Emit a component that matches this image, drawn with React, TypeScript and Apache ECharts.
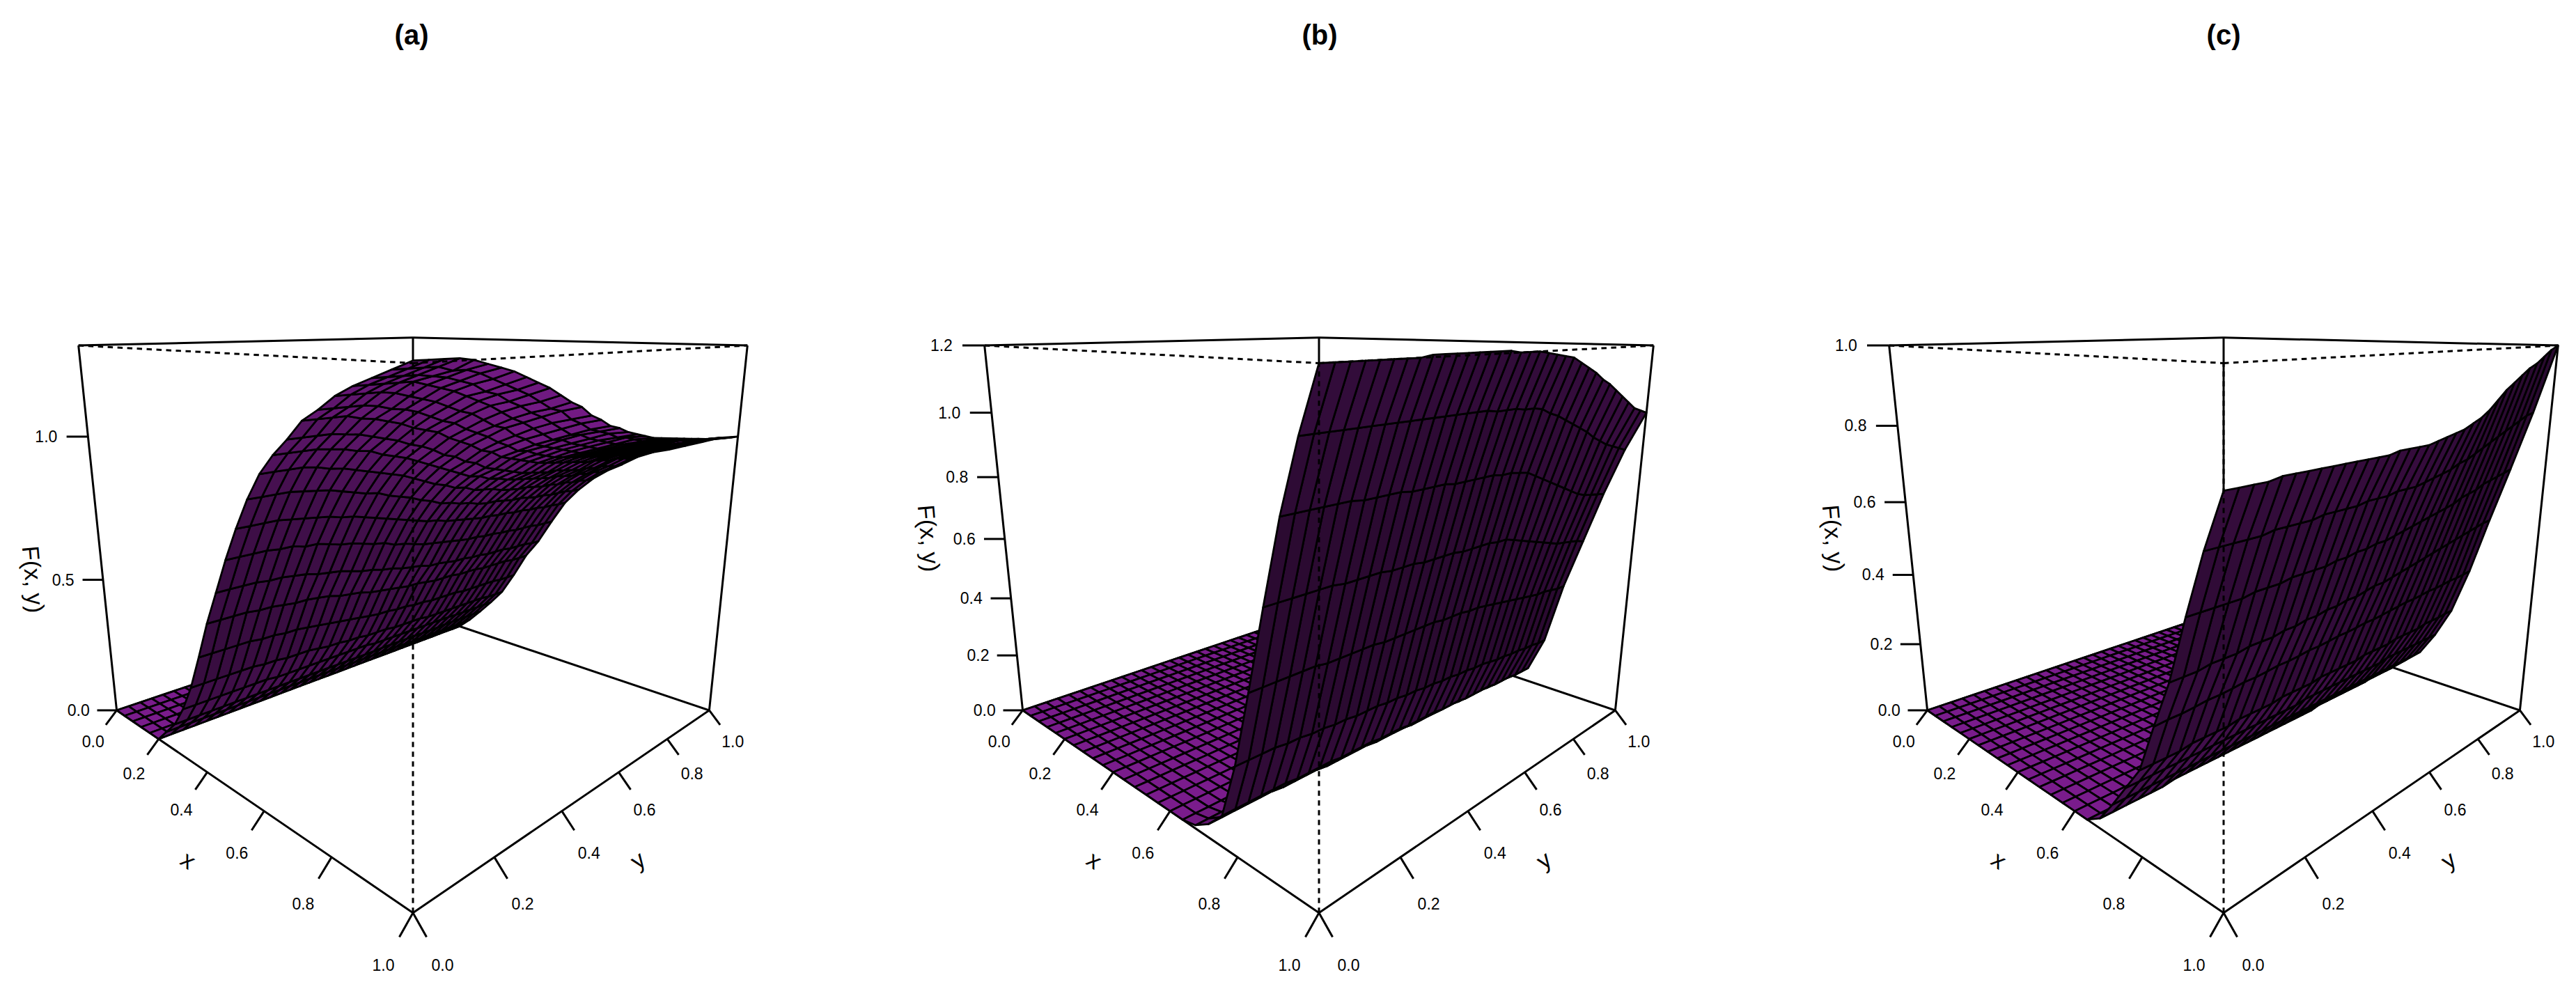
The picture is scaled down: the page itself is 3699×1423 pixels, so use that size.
import React, { useEffect, useRef } from "react";
import * as echarts from "echarts";

// ---- Data -----------------------------------------------------------------
const panelTitles = ["(a)", "(b)", "(c)"];
const zAxisMax = [1.295, 1.2, 1.0];
const xGridStep = 0.04;
const gridColumns = 34;
const gridRows = 26;
const xTickValues = [0, 0.2, 0.4, 0.6, 0.8, 1];
const xTickLabels = ["0.0", "0.2", "0.4", "0.6", "0.8", "1.0"];
const yTickValues = [0, 0.2, 0.4, 0.6, 0.8, 1];
const yTickLabels = ["0.0", "0.2", "0.4", "0.6", "0.8", "1.0"];
const zTickValuesA = [0, 0.5, 1];
const zTickLabelsA = ["0.0", "0.5", "1.0"];
const zTickValuesB = [0, 0.2, 0.4, 0.6, 0.8, 1, 1.2];
const zTickLabelsB = ["0.0", "0.2", "0.4", "0.6", "0.8", "1.0", "1.2"];
const zTickValuesC = [0, 0.2, 0.4, 0.6, 0.8, 1];
const zTickLabelsC = ["0.0", "0.2", "0.4", "0.6", "0.8", "1.0"];

// Rows below these indices lie flat on the floor (F = 0).
const flatRowsA = 6;
const flatRowsB = 17;
const flatRowsC = 17;

// F(x, y) rows, x = 0.24 ... 1.00 in steps of 0.04, y left to right.
const surfaceA = [
  [.05,.05,.05,.05,.05,.05,.05,.05,.05,.05,.05,.05,.05,.05,.05,.05,.05,.05,.05,.05,.05,.05,.05,.05,.048,.048,.048,.048,.048,.048,.048,.048,.048,.048],
  [.10,.10,.10,.10,.10,.10,.10,.10,.10,.10,.10,.10,.10,.10,.10,.10,.10,.10,.10,.10,.102,.102,.102,.102,.102,.102,.102,.102,.104,.104,.104,.104,.104,.104],
  [.175,.175,.175,.175,.175,.175,.175,.175,.17,.17,.17,.17,.17,.17,.17,.17,.17,.17,.165,.165,.165,.165,.165,.165,.165,.165,.165,.165,.163,.163,.163,.163,.163,.163],
  [.27,.27,.27,.27,.27,.27,.265,.265,.26,.26,.26,.255,.25,.25,.245,.245,.24,.24,.24,.235,.235,.235,.235,.23,.23,.23,.23,.23,.23,.23,.23,.226,.226,.226],
  [.39,.39,.39,.39,.39,.385,.385,.38,.38,.375,.37,.365,.36,.355,.35,.345,.34,.34,.335,.335,.33,.33,.325,.325,.325,.325,.32,.32,.32,.32,.32,.316,.316,.316],
  [.515,.515,.515,.515,.51,.51,.505,.50,.50,.495,.49,.48,.475,.47,.46,.455,.45,.445,.44,.44,.435,.43,.43,.43,.425,.425,.425,.42,.42,.42,.42,.415,.415,.415],
  [.625,.625,.625,.625,.62,.62,.615,.61,.60,.595,.59,.58,.57,.565,.555,.55,.54,.535,.53,.52,.52,.515,.51,.51,.505,.505,.50,.50,.50,.495,.495,.495,.49,.49],
  [.735,.735,.735,.735,.73,.73,.72,.72,.71,.70,.695,.685,.675,.67,.655,.65,.64,.63,.625,.62,.615,.61,.605,.605,.60,.60,.595,.595,.59,.59,.59,.585,.585,.584],
  [.835,.835,.835,.835,.83,.825,.82,.815,.805,.80,.79,.78,.77,.76,.75,.74,.73,.725,.715,.71,.705,.70,.695,.695,.69,.69,.685,.685,.68,.68,.675,.675,.672,.672],
  [.925,.925,.925,.925,.92,.915,.91,.90,.89,.88,.875,.86,.85,.84,.825,.815,.80,.795,.785,.78,.77,.765,.765,.76,.755,.755,.75,.745,.745,.74,.74,.74,.735,.734],
  [1.00,1.00,1.00,1.00,.995,.985,.98,.97,.96,.95,.94,.93,.915,.90,.885,.875,.86,.855,.84,.835,.83,.82,.815,.81,.81,.805,.80,.80,.795,.795,.79,.79,.785,.785],
  [1.055,1.055,1.055,1.055,1.05,1.045,1.035,1.03,1.015,1.005,.995,.98,.965,.95,.935,.92,.905,.90,.885,.88,.87,.865,.86,.855,.85,.845,.845,.84,.835,.835,.83,.83,.825,.824],
  [1.10,1.10,1.10,1.10,1.095,1.09,1.08,1.07,1.06,1.045,1.035,1.02,1.00,.99,.97,.96,.94,.93,.92,.91,.90,.895,.89,.885,.885,.88,.875,.87,.87,.865,.865,.86,.855,.855],
  [1.15,1.15,1.15,1.15,1.14,1.135,1.125,1.115,1.10,1.09,1.08,1.06,1.045,1.03,1.01,1.00,.98,.97,.96,.95,.94,.935,.93,.925,.92,.915,.91,.91,.905,.90,.90,.895,.89,.89],
  [1.18,1.18,1.18,1.18,1.175,1.165,1.16,1.15,1.135,1.12,1.11,1.09,1.075,1.06,1.04,1.025,1.005,1.00,.985,.975,.965,.96,.955,.95,.945,.94,.935,.93,.93,.925,.92,.92,.915,.914],
  [1.215,1.215,1.215,1.215,1.21,1.20,1.19,1.18,1.165,1.15,1.14,1.12,1.10,1.09,1.065,1.05,1.03,1.02,1.01,1.00,.99,.98,.975,.97,.965,.96,.955,.95,.945,.945,.94,.94,.935,.93],
  [1.24,1.24,1.24,1.24,1.24,1.23,1.22,1.21,1.195,1.18,1.165,1.145,1.125,1.11,1.09,1.07,1.05,1.045,1.03,1.02,1.01,1.00,.995,.99,.985,.98,.975,.97,.965,.96,.96,.955,.955,.95],
  [1.26,1.26,1.26,1.26,1.255,1.25,1.24,1.23,1.21,1.20,1.18,1.165,1.145,1.13,1.11,1.09,1.07,1.065,1.05,1.04,1.03,1.02,1.015,1.01,1.005,1.00,.995,.99,.985,.98,.98,.975,.975,.97],
  [1.28,1.28,1.28,1.28,1.27,1.27,1.26,1.245,1.23,1.215,1.20,1.18,1.16,1.15,1.125,1.11,1.09,1.08,1.07,1.055,1.05,1.04,1.03,1.025,1.02,1.015,1.01,1.01,1.00,1.00,.995,.995,.99,.99],
  [1.30,1.30,1.30,1.30,1.295,1.285,1.275,1.265,1.25,1.235,1.22,1.20,1.18,1.165,1.14,1.125,1.105,1.095,1.08,1.07,1.06,1.05,1.045,1.04,1.035,1.03,1.025,1.02,1.015,1.012,1.01,1.005,1.002,1.0],
];

// x = 0.68 ... 1.00
const surfaceB = [
  [.01,.01,.01,.01,.01,.01,.01,.01,.01,.01,.01,.01,.005,.005,.005,.005,.005,.005,.005,.005,.005,.005,.005,.005,0,0,0,0,0,0,0,0,0,0],
  [.04,.04,.04,.04,.04,.04,.035,.035,.035,.035,.03,.03,.03,.03,.03,.025,.025,.025,.025,.02,.02,.02,.02,.02,.02,.015,.015,.015,.015,.01,.01,.01,.01,.01],
  [.09,.09,.09,.09,.09,.09,.085,.085,.085,.085,.08,.08,.08,.08,.075,.075,.075,.07,.07,.07,.07,.065,.065,.065,.06,.06,.06,.06,.055,.055,.055,.05,.05,.05],
  [.25,.25,.25,.25,.245,.245,.24,.24,.235,.235,.23,.23,.23,.225,.225,.22,.22,.215,.215,.21,.21,.205,.205,.20,.20,.195,.19,.19,.185,.185,.18,.18,.175,.175],
  [.46,.46,.46,.46,.46,.46,.455,.455,.455,.455,.455,.45,.45,.45,.45,.45,.45,.445,.445,.445,.44,.44,.435,.43,.425,.42,.415,.41,.405,.40,.40,.395,.39,.39],
  [.68,.68,.68,.68,.68,.68,.675,.675,.675,.675,.67,.67,.67,.665,.665,.665,.665,.66,.66,.66,.66,.655,.655,.645,.635,.625,.615,.605,.595,.585,.58,.575,.57,.56],
  [.89,.89,.89,.89,.89,.89,.885,.885,.885,.885,.88,.88,.88,.88,.875,.875,.875,.875,.875,.87,.87,.865,.86,.845,.83,.815,.80,.785,.77,.755,.745,.74,.735,.73],
  [1.06,1.06,1.06,1.06,1.06,1.06,1.06,1.06,1.06,1.06,1.06,1.06,1.06,1.06,1.06,1.06,1.055,1.055,1.055,1.05,1.05,1.045,1.03,1.02,1.005,.99,.975,.96,.94,.925,.91,.90,.89,.88],
  [1.20,1.20,1.20,1.20,1.20,1.20,1.20,1.20,1.205,1.205,1.205,1.205,1.205,1.205,1.205,1.205,1.20,1.20,1.20,1.195,1.19,1.185,1.18,1.165,1.15,1.135,1.115,1.10,1.08,1.06,1.04,1.02,1.01,1.00],
];

// x = 0.68 ... 1.00
const surfaceC = [
  [.025,.025,.025,.025,.025,.025,.03,.03,.03,.03,.03,.03,.03,.03,.03,.03,.03,.03,.03,.03,.03,.035,.035,.035,.035,.035,.035,.035,.04,.04,.04,.04,.04,.04],
  [.08,.08,.08,.08,.08,.08,.08,.08,.08,.08,.08,.08,.08,.08,.08,.08,.08,.08,.08,.08,.08,.08,.08,.08,.08,.08,.08,.08,.08,.08,.08,.08,.08,.08],
  [.14,.14,.14,.14,.14,.14,.14,.14,.14,.14,.14,.14,.14,.14,.14,.14,.145,.145,.145,.145,.145,.145,.145,.145,.145,.145,.15,.15,.15,.15,.15,.15,.15,.15],
  [.20,.20,.20,.20,.205,.205,.205,.205,.21,.21,.21,.21,.215,.215,.215,.215,.22,.22,.22,.22,.22,.225,.225,.225,.225,.23,.23,.23,.23,.235,.235,.235,.238,.238],
  [.313,.315,.315,.317,.32,.32,.322,.325,.325,.327,.33,.33,.332,.335,.335,.337,.34,.34,.342,.345,.345,.347,.35,.352,.355,.355,.357,.36,.36,.362,.365,.365,.367,.37],
  [.42,.42,.42,.425,.425,.425,.43,.43,.43,.435,.435,.44,.44,.445,.445,.45,.45,.455,.46,.46,.465,.47,.475,.48,.485,.49,.495,.50,.505,.51,.515,.52,.525,.527],
  [.56,.56,.56,.56,.56,.565,.565,.565,.57,.57,.57,.57,.575,.575,.58,.58,.585,.585,.59,.595,.60,.605,.61,.615,.62,.625,.635,.64,.645,.655,.66,.665,.67,.676],
  [.69,.69,.69,.69,.69,.695,.695,.695,.695,.70,.70,.70,.70,.705,.705,.705,.71,.71,.71,.715,.72,.725,.73,.74,.745,.755,.765,.775,.785,.795,.805,.815,.825,.83],
  [.80,.80,.80,.80,.805,.805,.805,.805,.805,.805,.805,.805,.805,.805,.81,.81,.81,.81,.815,.82,.825,.83,.84,.85,.865,.885,.905,.92,.935,.95,.96,.975,.99,1.0],
];

const surfaces = [surfaceA, surfaceB, surfaceC];
const flatRows = [flatRowsA, flatRowsB, flatRowsC];
const zTickValues = [zTickValuesA, zTickValuesB, zTickValuesC];
const zTickLabels = [zTickLabelsA, zTickLabelsB, zTickLabelsC];

// ---- Viewing geometry -----------------------------------------------------
const panelCentreX = [593, 1894, 3193];
const zTitleX = [48, 1334, 2633];
const zTitleY = [832, 773, 773];
const titleX = [586, 1890, 3188];
const VIEW = { cy: 773.9, k: 1190, kx: 1683, D: 3.73, a: 0.226, q: 1.345, b: 0.818, p: 0.36 };

function projectZn(panel: number, x: number, y: number, zn: number): number[] {
  const hn = x + y - 1;
  const dn = x - y;
  const den = VIEW.D - VIEW.a * zn - VIEW.q * dn;
  return [
    panelCentreX[panel] + (VIEW.kx * hn) / den,
    VIEW.cy - (VIEW.k * (VIEW.b * zn - VIEW.p * dn)) / den,
  ];
}
function project(panel: number, x: number, y: number, z: number): number[] {
  return projectZn(panel, x, y, (2 * z) / zAxisMax[panel] - 1);
}
function heightAt(panel: number, i: number, j: number): number {
  return i < flatRows[panel] ? 0 : surfaces[panel][i - flatRows[panel]][j];
}

// Facet colour: lit like a persp() surface.
function facetColour(panel: number, i: number, j: number): string {
  const e = 0.868;
  const dx = 2 * xGridStep;
  const dy = 2 / (gridColumns - 1);
  const s = (2 * e) / zAxisMax[panel];
  const z00 = heightAt(panel, i, j) * s;
  const z10 = heightAt(panel, i + 1, j) * s;
  const z01 = heightAt(panel, i, j + 1) * s;
  const z11 = heightAt(panel, i + 1, j + 1) * s;
  const gx = (z10 + z11 - z00 - z01) / 2 / dx;
  const gy = (z01 + z11 - z00 - z10) / 2 / dy;
  const len = Math.sqrt(gx * gx + gy * gy + 1);
  const lit = (-gx * 0.6 - gy * 0.3 + 0.75) / len;
  const shade = (lit / 1.006 + 1) / 2;
  const k = Math.min(1.06, shade / 0.873);
  return `rgb(${Math.round(122 * k)},${Math.round(28 * k)},${Math.round(140 * k)})`;
}

// Corner pairs of the box, as [x, y, top?] twice.
const backEdges = [
  [0, 0, 0, 1, 0, 0], [1, 0, 0, 1, 1, 0], [1, 1, 0, 0, 1, 0], [0, 1, 0, 0, 0, 0],
  [0, 0, 1, 0, 1, 1], [0, 1, 1, 1, 1, 1],
  [0, 0, 0, 0, 0, 1], [1, 1, 0, 1, 1, 1], [0, 1, 0, 0, 1, 1],
];
const frontEdges = [
  [0, 0, 1, 1, 0, 1], [1, 0, 1, 1, 1, 1], [1, 0, 0, 1, 0, 1],
];

const TICK_T = 0.03;
const TICK_U = 0.065;
const TICK_D = 0.033;
const LABEL_FONT = "Liberation Sans";

function edgeSeries(edges: number[][], dashed: boolean, z: number) {
  const data: number[][] = [];
  [0, 1, 2].forEach((p) => edges.forEach((_, e) => data.push([p, e])));
  return {
    type: "custom", coordinateSystem: "cartesian2d", silent: true, clip: false, z, data, progressive: 0,
    renderItem: (_: any, api: any) => {
      const p = api.value(0);
      const e = edges[api.value(1)];
      const a = api.coord(projectZn(p, e[0], e[1], e[2] * 2 - 1));
      const b = api.coord(projectZn(p, e[3], e[4], e[5] * 2 - 1));
      return {
        type: "line",
        shape: { x1: a[0], y1: a[1], x2: b[0], y2: b[1] },
        style: { stroke: "#000", lineWidth: 3, lineDash: dashed ? [7.5, 6.5] : undefined, fill: "none" },
      };
    },
  };
}

function surfaceSeries(panel: number) {
  const data: number[][] = [];
  for (let i = 0; i < gridRows - 1; i++) {
    for (let j = gridColumns - 2; j >= 0; j--) data.push([i, j]);
  }
  return {
    type: "custom", coordinateSystem: "cartesian2d", silent: true, clip: false, z: 2, data, progressive: 0,
    renderItem: (_: any, api: any) => {
      const i = api.value(0);
      const j = api.value(1);
      const cy = 1 / (gridColumns - 1);
      const corners = [[i, j], [i + 1, j], [i + 1, j + 1], [i, j + 1]];
      const points = corners.map(([a, b]) =>
        api.coord(project(panel, a * xGridStep, b * cy, heightAt(panel, a, b))),
      );
      return {
        type: "polygon",
        shape: { points },
        style: { fill: facetColour(panel, i, j), stroke: "#000", lineWidth: 2.8, lineJoin: "round" },
      };
    },
  };
}

type Tick = { from: number[]; to: number[]; at: number[]; text: string; panel: number };
function buildTicks(): Tick[] {
  const out: Tick[] = [];
  [0, 1, 2].forEach((p) => {
    xTickValues.forEach((v, n) => {
      out.push({
        panel: p, text: xTickLabels[n],
        from: projectZn(p, v, 0, -1),
        to: projectZn(p, v, -TICK_T, -1 - TICK_U),
        at: projectZn(p, v, -TICK_T * 2.15, -1 - TICK_U * 2.15),
      });
    });
    yTickValues.forEach((v, n) => {
      out.push({
        panel: p, text: yTickLabels[n],
        from: projectZn(p, 1, v, -1),
        to: projectZn(p, 1 + TICK_T, v, -1 - TICK_U),
        at: projectZn(p, 1 + TICK_T * 2.15, v, -1 - TICK_U * 2.15),
      });
    });
    zTickValues[p].forEach((v, n) => {
      const zn = (2 * v) / zAxisMax[p] - 1;
      out.push({
        panel: p, text: zTickLabels[p][n],
        from: projectZn(p, 0, 0, zn),
        to: projectZn(p, -TICK_D, -TICK_D, zn),
        at: projectZn(p, -TICK_D * 1.95, -TICK_D * 1.95, zn),
      });
    });
  });
  return out;
}

export default function App() {
  const ref = useRef<HTMLDivElement>(null);
  useEffect(() => {
    document.body.style.margin = "0";
    const chart = echarts.init(ref.current!, undefined, { renderer: "svg" });
    const ticks = buildTicks();
    const axisTitles: { text: string; at: number[]; rot: number }[] = [];
    [0, 1, 2].forEach((p) => {
      axisTitles.push({ text: "x", at: projectZn(p, 0.5, -TICK_T * 3.7, -1 - TICK_U * 3.7), rot: -35 });
      axisTitles.push({ text: "y", at: projectZn(p, 1 + TICK_T * 3.7, 0.5, -1 - TICK_U * 3.7), rot: 35 });
      axisTitles.push({ text: "F(x, y)", at: [zTitleX[p], zTitleY[p]], rot: -85 });
    });
    chart.setOption({
      animation: false,
      backgroundColor: "#fff",
      title: panelTitles.map((t, i) => ({
        text: t, left: titleX[i], top: 45, textAlign: "center", textVerticalAlign: "middle",
        textStyle: { fontFamily: LABEL_FONT, fontSize: 40, fontWeight: "bold", color: "#000" },
      })),
      grid: { left: 0, right: 0, top: 0, bottom: 0 },
      xAxis: { type: "value", min: 0, max: 3699, show: false },
      yAxis: { type: "value", min: 0, max: 1423, inverse: true, show: false },
      series: [
        edgeSeries(backEdges, false, 1),
        surfaceSeries(0), surfaceSeries(1), surfaceSeries(2),
        edgeSeries(frontEdges, true, 3),
        {
          type: "custom", coordinateSystem: "cartesian2d", silent: true, clip: false, z: 4, progressive: 0,
          data: ticks.map((_, i) => [i]),
          renderItem: (_: any, api: any) => {
            const t = ticks[api.value(0)];
            const a = api.coord(t.from);
            const b = api.coord(t.to);
            const c = api.coord(t.at);
            return {
              type: "group",
              children: [
                { type: "line", shape: { x1: a[0], y1: a[1], x2: b[0], y2: b[1] }, style: { stroke: "#000", lineWidth: 3 } },
                { type: "text", x: c[0], y: c[1], style: { text: t.text, fontFamily: LABEL_FONT, fontSize: 23, fill: "#000", align: "center", verticalAlign: "middle" } },
              ],
            };
          },
        },
        {
          type: "custom", coordinateSystem: "cartesian2d", silent: true, clip: false, z: 4, progressive: 0,
          data: axisTitles.map((_, i) => [i]),
          renderItem: (_: any, api: any) => {
            const t = axisTitles[api.value(0)];
            const c = api.coord(t.at);
            return {
              type: "text", x: c[0], y: c[1], rotation: (t.rot * Math.PI) / 180,
              style: { text: t.text, fontFamily: LABEL_FONT, fontSize: 34, fill: "#000", align: "center", verticalAlign: "middle" },
            };
          },
        },
      ],
    });
    return () => chart.dispose();
  }, []);
  return <div ref={ref} style={{ width: 3699, height: 1423 }} />;
}
